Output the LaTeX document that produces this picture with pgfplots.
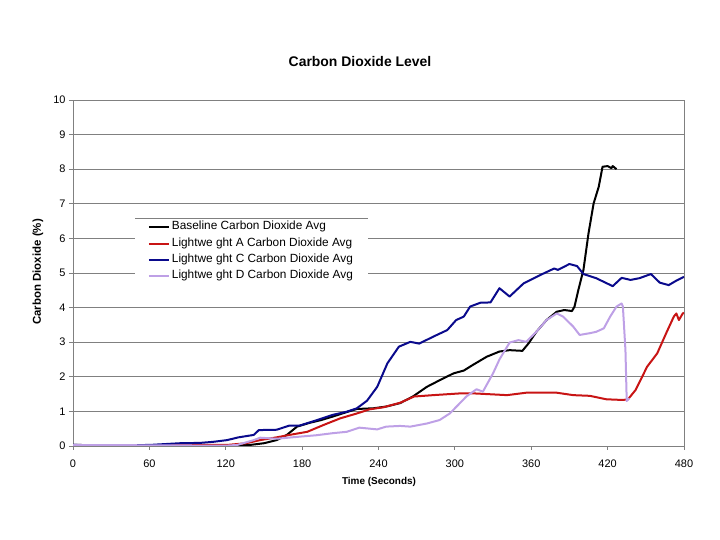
\documentclass[border=0pt]{standalone}
\usepackage{pgfplots}
\pgfplotsset{compat=1.18}
\usepackage{fontspec}
\setmainfont{Liberation Sans}
\definecolor{cBase}{RGB}{0,0,0}
\definecolor{cA}{RGB}{200,20,20}
\definecolor{cC}{RGB}{10,10,140}
\definecolor{cD}{RGB}{190,160,230}
\definecolor{gridc}{RGB}{128,128,128}
\begin{document}
\begin{tikzpicture}
\path[use as bounding box] (0bp,0bp) rectangle (720bp,540bp);
\begin{axis}[
  at={(73bp,94bp)}, anchor=south west,
  scale only axis, width=611bp, height=346bp,
  xmin=0, xmax=480, ymin=0, ymax=10,
  xtick={0,60,...,480}, ytick={0,1,...,10},
  xtick pos=bottom, ytick pos=left,
  tick align=outside, major tick length=4bp,
  ymajorgrids, grid style={gridc, line width=0.8bp},
  axis line style={gridc, line width=0.8bp},
  tick style={gridc, line width=0.8bp},
  /pgf/number format/assume math mode=true,
  ticklabel style={font=\fontsize{11}{13}\selectfont, text=black},
  xticklabel style={yshift=-6bp},
  legend cell align=left,
  legend image code/.code={\draw[#1, line width=2bp] (0bp,0bp) -- (20bp,0bp);},
  legend style={at={(0.101,0.659)}, anchor=north west, draw=none, fill=white,
    font=\fontsize{11.9}{13}\selectfont, inner xsep=13bp, inner ysep=2bp,
    row sep=2.4bp, column sep=0bp,
    nodes={inner sep=2bp, text height=0.75em, text depth=0.25em}},
  every axis plot/.append style={line width=2bp, line join=round},
]
\addplot[cBase] coordinates {
(0,0.03) (60,0.02) (120,0.0) (139,0.03) (150,0.08) (160,0.17) (168,0.32) (176,0.56)
(186,0.67) (195,0.75) (204,0.85) (215,0.98) (223,1.07) (236,1.09) (246,1.14) (257,1.24)
(267,1.43) (278,1.71) (288,1.90) (299,2.10) (307,2.18) (314,2.34) (325,2.58) (335,2.73)
(343,2.77) (353,2.75) (358,2.97) (364,3.30) (372,3.64) (380,3.88) (386,3.93) (392,3.90)
(394,4.03) (397,4.51) (401,5.09) (405,6.15) (409,7.01) (413,7.49) (416,8.07) (420,8.09)
(423,8.03) (424,8.09) (427,8.00)};
\addlegendentry{Baseline Carbon Dioxide Avg}
\addplot[cA] coordinates {
(0,0.02) (60,0.02) (84,0.04) (121,0.03) (136,0.08) (147,0.17) (160,0.25) (170,0.32)
(184,0.41) (197,0.61) (210,0.80) (223,0.94) (233,1.06) (244,1.12) (257,1.25) (268,1.43)
(283,1.47) (304,1.52) (315,1.52) (341,1.47) (356,1.54) (380,1.54) (393,1.47) (406,1.45)
(419,1.35) (432,1.33) (436,1.35) (442,1.62) (451,2.29) (459,2.68) (466,3.26) (472,3.74)
(474,3.83) (476,3.64) (479,3.83) (480,3.85)};
\addlegendentry{Lightwe ght A Carbon Dioxide Avg}
\addplot[cC] coordinates {
(0,0.03) (30,0.02) (60,0.03) (84,0.08) (100,0.09) (110,0.12) (121,0.17) (130,0.25)
(142,0.32) (146,0.46) (160,0.47) (170,0.59) (178,0.59) (191,0.74) (204,0.90) (215,0.99)
(223,1.09) (231,1.31) (239,1.71) (247,2.39) (256,2.87) (265,3.01) (272,2.96) (283,3.16)
(294,3.35) (301,3.64) (307,3.74) (312,4.03) (320,4.14) (328,4.15) (335,4.56) (343,4.32)
(354,4.70) (367,4.94) (378,5.13) (381,5.09) (390,5.26) (396,5.20) (401,4.97) (411,4.85)
(424,4.62) (431,4.86) (438,4.80) (445,4.85) (454,4.97) (461,4.72) (468,4.65) (474,4.78)
(480,4.89)};
\addlegendentry{Lightwe ght C Carbon Dioxide Avg}
\addplot[cD] coordinates {
(0,0.03) (60,0.02) (120,0.01) (129,0.03) (142,0.17) (147,0.24) (160,0.21) (178,0.27)
(191,0.31) (204,0.37) (215,0.41) (225,0.53) (239,0.48) (246,0.56) (257,0.58) (265,0.56)
(278,0.65) (288,0.75) (296,0.94) (304,1.24) (309,1.43) (317,1.64) (322,1.57) (330,2.10)
(335,2.50) (343,2.99) (350,3.06) (356,3.01) (364,3.30) (372,3.64) (380,3.83) (385,3.74)
(393,3.45) (398,3.21) (406,3.26) (411,3.30) (417,3.40) (422,3.74) (427,4.03) (431,4.12)
(432,4.03) (434,2.77) (435,1.30) (437,1.38)};
\addlegendentry{Lightwe ght D Carbon Dioxide Avg}
\end{axis}
\draw[gridc, line width=0.8bp] (135bp,322bp) -- (368bp,322bp);
\node[font=\bfseries\fontsize{14}{16}\selectfont] at (360bp,478bp) {Carbon Dioxide Level};
\node[font=\bfseries\fontsize{11.5}{13}\selectfont, rotate=90] at (38bp,268bp) {Carbon Dioxide (\%)};
\node[font=\bfseries\fontsize{10}{12}\selectfont] at (379bp,58bp) {Time (Seconds)};
\end{tikzpicture}
\end{document}
